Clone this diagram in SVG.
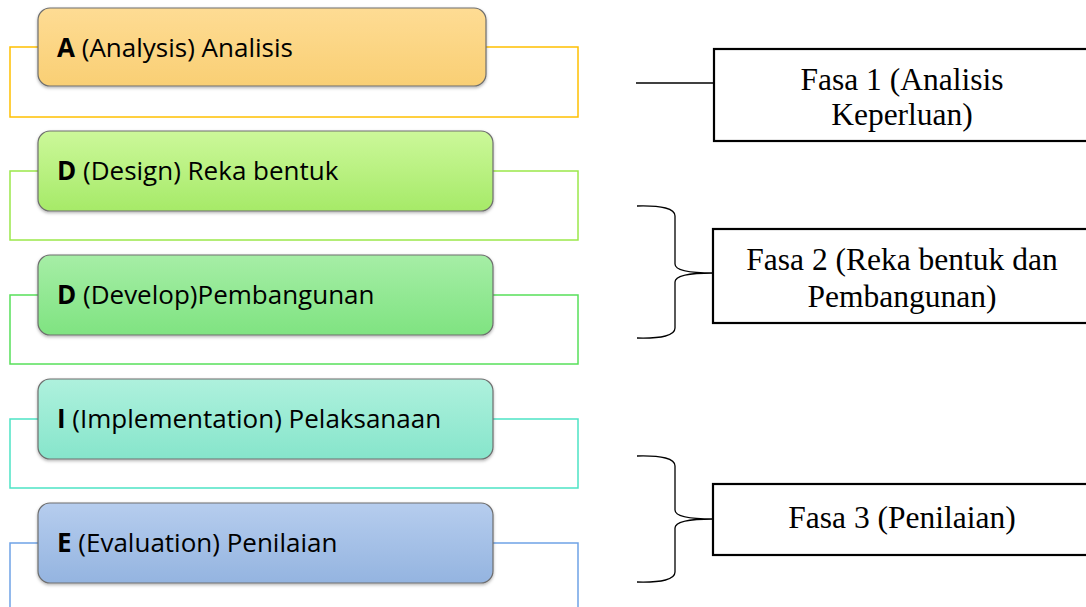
<svg xmlns="http://www.w3.org/2000/svg" width="1086" height="607" viewBox="0 0 1086 607">
<style>
.lbl{font-family:"Open Sans","Liberation Sans",sans-serif;font-size:26px;fill:#000}
.b{font-weight:bold}
.ph{font-family:"Liberation Serif","Times New Roman",serif;font-size:31.5px;fill:#000;text-anchor:middle}
.card{stroke:#6e6e6e;stroke-width:1.2}
.pbox{fill:#fff;stroke:#000;stroke-width:2.2}
.brk{fill:none;stroke-width:1.5}
.conn{fill:none;stroke:#000;stroke-width:1.3}
</style>
<defs>
<linearGradient id="gA" x1="0" y1="0" x2="0" y2="1"><stop offset="0" stop-color="#fedc94"/><stop offset="1" stop-color="#f9cf74"/></linearGradient>
<linearGradient id="gD1" x1="0" y1="0" x2="0" y2="1"><stop offset="0" stop-color="#ccf89a"/><stop offset="1" stop-color="#a6ea68"/></linearGradient>
<linearGradient id="gD2" x1="0" y1="0" x2="0" y2="1"><stop offset="0" stop-color="#a6eea6"/><stop offset="1" stop-color="#7fe381"/></linearGradient>
<linearGradient id="gI" x1="0" y1="0" x2="0" y2="1"><stop offset="0" stop-color="#aef1dd"/><stop offset="1" stop-color="#86e5cb"/></linearGradient>
<linearGradient id="gE" x1="0" y1="0" x2="0" y2="1"><stop offset="0" stop-color="#b6cdee"/><stop offset="1" stop-color="#94b4e0"/></linearGradient>
<filter id="sh" x="-5%" y="-10%" width="110%" height="130%"><feDropShadow dx="0" dy="1.5" stdDeviation="1.5" flood-color="#000" flood-opacity="0.3"/></filter>
</defs>

<g id="brackets">
<rect x="10" y="47" width="568" height="70" class="brk" stroke="#ffc000"/>
<rect x="10" y="171" width="568" height="69" class="brk" stroke="#9be84a"/>
<rect x="10" y="295" width="568" height="69" class="brk" stroke="#57e05a"/>
<rect x="10" y="419" width="568" height="69" class="brk" stroke="#4de3c5"/>
<path d="M10,620 V543 H578 V620" class="brk" stroke="#6fa3e6"/>
</g>

<g id="node-A">
<rect x="38" y="8" width="448" height="78" rx="12" class="card" fill="url(#gA)" filter="url(#sh)"/>
<text x="57" y="57" class="lbl"><tspan class="b">A</tspan> (Analysis) Analisis</text>
</g>
<g id="node-D1">
<rect x="38" y="131" width="455" height="80" rx="12" class="card" fill="url(#gD1)" filter="url(#sh)"/>
<text x="57" y="180" class="lbl"><tspan class="b">D</tspan> (Design) Reka bentuk</text>
</g>
<g id="node-D2">
<rect x="38" y="255" width="455" height="80" rx="12" class="card" fill="url(#gD2)" filter="url(#sh)"/>
<text x="57" y="304" class="lbl"><tspan class="b">D</tspan> (Develop)Pembangunan</text>
</g>
<g id="node-I">
<rect x="38" y="379" width="455" height="80" rx="12" class="card" fill="url(#gI)" filter="url(#sh)"/>
<text x="57" y="428" class="lbl"><tspan class="b">I</tspan> (Implementation) Pelaksanaan</text>
</g>
<g id="node-E">
<rect x="38" y="503" width="455" height="80" rx="12" class="card" fill="url(#gE)" filter="url(#sh)"/>
<text x="57" y="552" class="lbl"><tspan class="b">E</tspan> (Evaluation) Penilaian</text>
</g>

<g id="connectors">
<path d="M636,83 H714" class="conn"/>
<path d="M637,206 Q675,205 675,216 L675,264 Q675,273 713,273 Q675,273 675,282 L675,328 Q675,339 637,338" class="conn"/>
<path d="M637,456 Q675,455 675,466 L675,510 Q675,519 713,519 Q675,519 675,528 L675,572 Q675,583 637,582" class="conn"/>
</g>

<g id="fasa1">
<rect x="714" y="49" width="380" height="92" class="pbox"/>
<text x="902" y="90" class="ph">Fasa 1 (Analisis</text>
<text x="902" y="125" class="ph">Keperluan)</text>
</g>
<g id="fasa2">
<rect x="713" y="229" width="380" height="94" class="pbox"/>
<text x="902" y="270" class="ph">Fasa 2 (Reka bentuk dan</text>
<text x="902" y="307" class="ph">Pembangunan)</text>
</g>
<g id="fasa3">
<rect x="713" y="484" width="380" height="71" class="pbox"/>
<text x="902" y="528" class="ph">Fasa 3 (Penilaian)</text>
</g>
</svg>
